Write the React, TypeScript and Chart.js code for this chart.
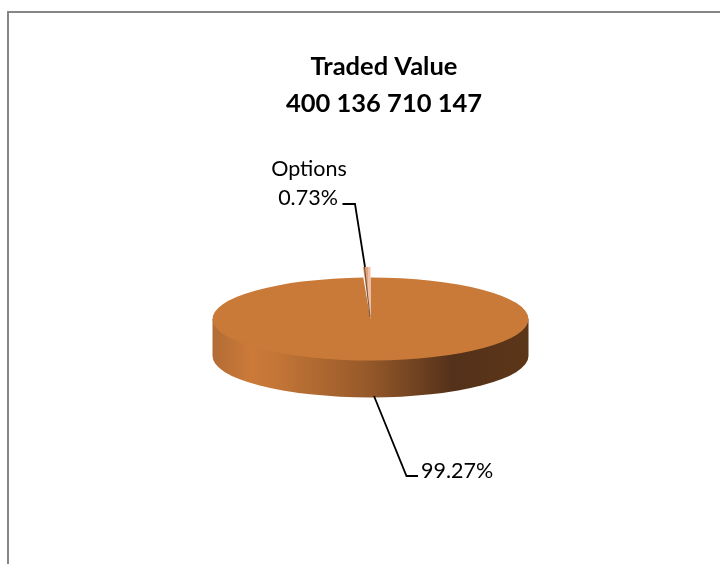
import React, { useEffect, useRef } from "react";
import { Chart, registerables } from "chart.js";

Chart.register(...registerables);

const categories = ["Futures", "Options"];
const shares = [99.27, 0.73];
const titleLines = ["Traded Value", "400 136 710 147"];

const FONT = "Lato, Carlito, Calibri, sans-serif";
const PIE_X = 370.5;
const PIE_Y = 319;
const RADIUS = 158;
const SQUASH = 41.5 / 158;
const DEPTH = 37;
const WEDGE_RADIUS = 198;
const WEDGE_NARROW = 0.83;
const PAD_LEFT = 48;
const LAYOUT_MID = (720 + PAD_LEFT) / 2;

const project = (chart: any, x: number, y: number) => {
  const arc = chart.getDatasetMeta(0).data[0];
  return { x: PIE_X + (x - arc.x), y: PIE_Y + (y - arc.y) * SQUASH };
};

const pie3d = {
  id: "pie3d",
  beforeDraw(chart: any) {
    const { ctx, width, height } = chart;
    ctx.save();
    ctx.strokeStyle = "#868686";
    ctx.lineWidth = 2;
    ctx.beginPath();
    ctx.moveTo(8, height);
    ctx.lineTo(8, 12);
    ctx.lineTo(width, 12);
    ctx.stroke();
    ctx.restore();
  },
  afterDatasetsUpdate(chart: any) {
    const wedge = chart.getDatasetMeta(0).data[1];
    const span = wedge.endAngle - wedge.startAngle;
    wedge.outerRadius = WEDGE_RADIUS;
    wedge.startAngle = wedge.endAngle - span * WEDGE_NARROW;
    wedge.circumference = span * WEDGE_NARROW;
  },
  beforeDatasetsDraw(chart: any) {
    const { ctx } = chart;
    const arc = chart.getDatasetMeta(0).data[0];
    const r = arc.outerRadius;
    const ry = r * SQUASH;
    const grad = ctx.createLinearGradient(PIE_X - r, 0, PIE_X + r, 0);
    grad.addColorStop(0, "#b26c36");
    grad.addColorStop(0.12, "#cb7a38");
    grad.addColorStop(0.2, "#c47637");
    grad.addColorStop(0.5, "#945829");
    grad.addColorStop(0.76, "#54311a");
    grad.addColorStop(1, "#5c3618");
    ctx.save();
    ctx.fillStyle = grad;
    ctx.beginPath();
    ctx.moveTo(PIE_X - r, PIE_Y);
    ctx.lineTo(PIE_X + r, PIE_Y);
    ctx.lineTo(PIE_X + r, PIE_Y + DEPTH);
    ctx.ellipse(PIE_X, PIE_Y + DEPTH, r, ry, 0, 0, Math.PI, false);
    ctx.closePath();
    ctx.fill();
    ctx.restore();
    ctx.save();
    ctx.translate(PIE_X, PIE_Y);
    ctx.scale(1, SQUASH);
    ctx.translate(-arc.x, -arc.y);
  },
  afterDatasetsDraw(chart: any) {
    const { ctx } = chart;
    ctx.restore();
    const meta = chart.getDatasetMeta(0);
    const wedge = meta.data[1];
    const edge = project(
      chart,
      wedge.x + Math.cos(wedge.startAngle) * wedge.outerRadius,
      wedge.y + Math.sin(wedge.startAngle) * wedge.outerRadius
    );

    ctx.save();
    ctx.strokeStyle = "rgba(70,50,40,0.75)";
    ctx.lineWidth = 1;
    ctx.beginPath();
    ctx.moveTo(edge.x + 1.5, edge.y);
    ctx.lineTo(PIE_X - 0.5, PIE_Y - 2);
    ctx.stroke();

    ctx.strokeStyle = "#000";
    ctx.lineWidth = 1.8;
    ctx.beginPath();
    ctx.moveTo(342.5, 204);
    ctx.lineTo(355, 204);
    ctx.lineTo(365, 267);
    ctx.moveTo(374, 396);
    ctx.lineTo(406.5, 476);
    ctx.lineTo(418, 476);
    ctx.stroke();

    ctx.fillStyle = "#000";
    ctx.font = `21.5px ${FONT}`;
    ctx.textBaseline = "alphabetic";
    ctx.textAlign = "center";
    ctx.fillText(categories[1], 309, 176);
    ctx.fillText(`${shares[1].toFixed(2)}%`, 308, 205);
    ctx.textAlign = "left";
    ctx.fillText(`${shares[0].toFixed(2)}%`, 421, 478);
    ctx.restore();
  },
};

export default function App() {
  const ref = useRef<HTMLCanvasElement | null>(null);
  useEffect(() => {
    const chart = new Chart(ref.current as HTMLCanvasElement, {
      type: "pie",
      data: {
        labels: categories,
        datasets: [
          {
            data: shares,
            borderWidth: 0,
            clip: false,
            radius: RADIUS,
            backgroundColor: (c: any) => {
              if (c.dataIndex !== 1) return "#c97a38";
              const g = c.chart.ctx.createLinearGradient(LAYOUT_MID - 7.5, 0, LAYOUT_MID, 0);
              g.addColorStop(0, "#d9986e");
              g.addColorStop(0.62, "#e2a47d");
              g.addColorStop(0.68, "#f0bfa4");
              g.addColorStop(1, "#f0bfa4");
              return g;
            },
          } as any,
        ],
      },
      options: {
        responsive: false,
        animation: false,
        layout: { padding: { left: PAD_LEFT, right: 0, top: 0, bottom: 0 } },
        plugins: {
          legend: { display: false },
          tooltip: { enabled: false },
          title: {
            display: true,
            text: titleLines,
            color: "#000",
            font: { family: FONT, size: 25.5, weight: "bold", lineHeight: 1.45 },
            padding: { top: 48, bottom: 0 },
          },
        },
      },
      plugins: [pie3d],
    } as any);
    return () => chart.destroy();
  }, []);
  return (
    <div style={{ position: "fixed", left: 0, top: 0, width: 720, height: 564, overflow: "hidden", background: "#fff" }}>
      <canvas ref={ref} width={720} height={564} style={{ display: "block" }} />
    </div>
  );
}
